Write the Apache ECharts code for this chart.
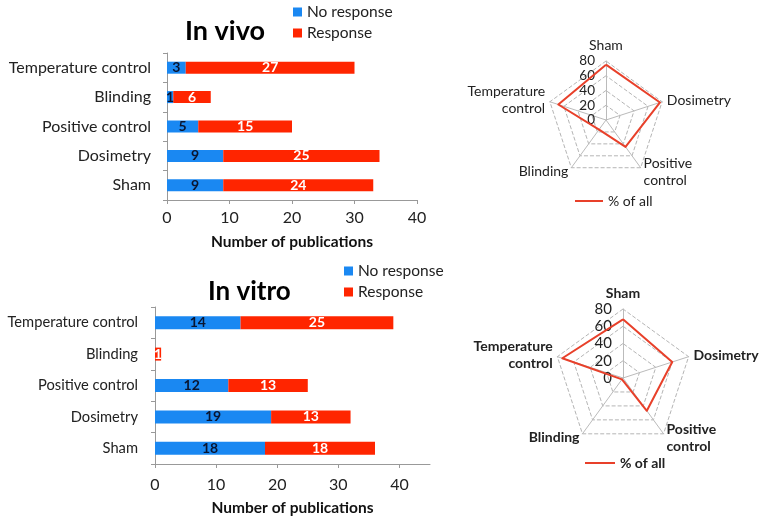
<!DOCTYPE html>
<html><head><meta charset="utf-8">
<script src="https://cdn.jsdelivr.net/npm/echarts@6/dist/echarts.min.js"></script>
<style>html,body{margin:0;padding:0;background:#fff}#c{width:760px;height:517px}</style>
</head><body><div id="c"></div>
<script>
// Bar chart categories (bottom to top)
const categories = ['Sham', 'Dosimetry', 'Positive control', 'Blinding', 'Temperature control'];
const vivoNoResponse = [9, 9, 5, 1, 3];
const vivoResponse = [24, 25, 15, 6, 27];
const vitroNoResponse = [18, 19, 12, 0, 14];
const vitroResponse = [18, 13, 13, 1, 25];
// Radar (counter-clockwise from top)
const radarAxes = ['Sham', 'Temperature\ncontrol', 'Blinding', 'Positive\ncontrol', 'Dosimetry'];
const vivoPercent = [75, 68, 16, 45, 77];
const vitroPercent = [68, 74, 2, 47, 60];
const radarMax = 80;

const BLUE = '#1a88f2', RED = '#ff2500', LINE = '#e8402a';
const FONT = 'Lato, "Noto Sans", sans-serif';

const chart = echarts.init(document.getElementById('c'));

function bars(name, data, idx, color, labelColor) {
  return {
    name: name, type: 'bar', stack: 's' + idx, xAxisIndex: idx, yAxisIndex: idx,
    data: data, barWidth: idx === 0 ? 12 : 13,
    itemStyle: { color: color },
    label: {
      show: true, position: 'inside', color: labelColor, fontWeight: 'bold',
      fontSize: 14, fontFamily: FONT,
      formatter: p => (p.value === 0 ? '' : p.value)
    }
  };
}

function radar(center, radius, bold, labelSize) {
  return {
    center: center, radius: radius, startAngle: 90, shape: 'polygon', splitNumber: 4,
    indicator: radarAxes.map((n, i) => ({
      name: n, min: 0, max: radarMax,
      axisLabel: { show: i === 0 }
    })),
    axisName: { color: '#222', fontSize: 14, fontFamily: FONT, fontWeight: bold ? 'bold' : 'normal', lineHeight: 17 },
    nameGap: 5,
    axisLine: { lineStyle: { color: '#bbb', width: 1 } },
    splitLine: { lineStyle: { color: '#b5b5b5', type: 'dashed', width: 1 } },
    splitArea: { show: false },
    axisTick: { show: false },
    axisLabel: { show: true, color: '#222', fontSize: labelSize, lineHeight: 10, fontFamily: FONT, margin: 11,
      showMinLabel: true, showMaxLabel: true, hideOverlap: false }
  };
}

const option = {
  animation: false,
  backgroundColor: '#fff',
  textStyle: { fontFamily: FONT },
  title: [
    { text: 'In vivo', left: 180, top: 13, textStyle: { fontSize: 27, fontWeight: 'bold', color: '#000', fontFamily: FONT } },
    { text: 'In vitro', left: 203, top: 274, textStyle: { fontSize: 26, fontWeight: 'bold', color: '#000', fontFamily: FONT } }
  ],
  legend: [
    { data: ['No response', 'Response'], orient: 'vertical', left: 288, top: -1, itemWidth: 9, itemHeight: 9, itemGap: 5,
      textStyle: { fontSize: 15.5, color: '#222', fontFamily: FONT }, icon: 'rect' },
    { data: ['No response', 'Response'], orient: 'vertical', left: 339, top: 258, itemWidth: 9, itemHeight: 9, itemGap: 5,
      textStyle: { fontSize: 15.5, color: '#222', fontFamily: FONT }, icon: 'rect' },
    { data: ['% of all'], left: 570, top: 189, itemWidth: 28, itemHeight: 2, icon: 'rect',
      textStyle: { fontSize: 14, color: '#222', fontFamily: FONT } },
    { data: ['% of all'], left: 580, top: 451, itemWidth: 30, itemHeight: 2, icon: 'rect',
      textStyle: { fontSize: 14, color: '#222', fontWeight: 'bold', fontFamily: FONT } }
  ],
  grid: [
    { left: 167, top: 53, width: 250, height: 147 },
    { left: 155, top: 307, width: 275, height: 159 }
  ],
  xAxis: [
    { gridIndex: 0, type: 'value', min: 0, max: 40, interval: 10,
      axisLine: { show: true, lineStyle: { color: '#999' } },
      axisTick: { show: true, length: 4, lineStyle: { color: '#999' } },
      splitLine: { show: false },
      axisLabel: { fontSize: 16, color: '#222', margin: 10 },
      name: 'Number of publications', nameLocation: 'middle', nameGap: 34,
      nameTextStyle: { fontSize: 15.5, fontWeight: 'bold', color: '#111' } },
    { gridIndex: 1, type: 'value', min: 0, max: 45, interval: 10,
      axisLine: { show: true, lineStyle: { color: '#999' } },
      axisTick: { show: true, length: 4, lineStyle: { color: '#999' } },
      splitLine: { show: false },
      axisLabel: { fontSize: 16, color: '#222', margin: 13, showMaxLabel: false },
      name: 'Number of publications', nameLocation: 'middle', nameGap: 36,
      nameTextStyle: { fontSize: 15.5, fontWeight: 'bold', color: '#111' } }
  ],
  yAxis: [
    { gridIndex: 0, type: 'category', data: categories,
      axisLine: { lineStyle: { color: '#999' } },
      axisTick: { show: true, length: 4, inside: false, lineStyle: { color: '#999' } },
      axisLabel: { fontSize: 16, color: '#222', margin: 16 } },
    { gridIndex: 1, type: 'category', data: categories,
      axisLine: { lineStyle: { color: '#999' } },
      axisTick: { show: true, length: 4, lineStyle: { color: '#999' } },
      axisLabel: { fontSize: 14.7, color: '#222', margin: 17 } }
  ],
  radar: [
    radar([606, 120], 59, false, 13.5),
    radar([623, 378], 69, true, 15)
  ],
  series: [
    bars('No response', vivoNoResponse, 0, BLUE, '#0a1530'),
    bars('Response', vivoResponse, 0, RED, '#fff'),
    bars('No response', vitroNoResponse, 1, BLUE, '#0a1530'),
    bars('Response', vitroResponse, 1, RED, '#fff'),
    { name: '% of all', type: 'radar', radarIndex: 0, symbol: 'none',
      itemStyle: { color: LINE }, lineStyle: { color: LINE, width: 2 },
      data: [{ value: vivoPercent, name: '% of all' }] },
    { name: '% of all', type: 'radar', radarIndex: 1, symbol: 'none',
      itemStyle: { color: LINE }, lineStyle: { color: LINE, width: 2 },
      data: [{ value: vitroPercent, name: '% of all' }] }
  ]
};
chart.setOption(option);
</script></body></html>
